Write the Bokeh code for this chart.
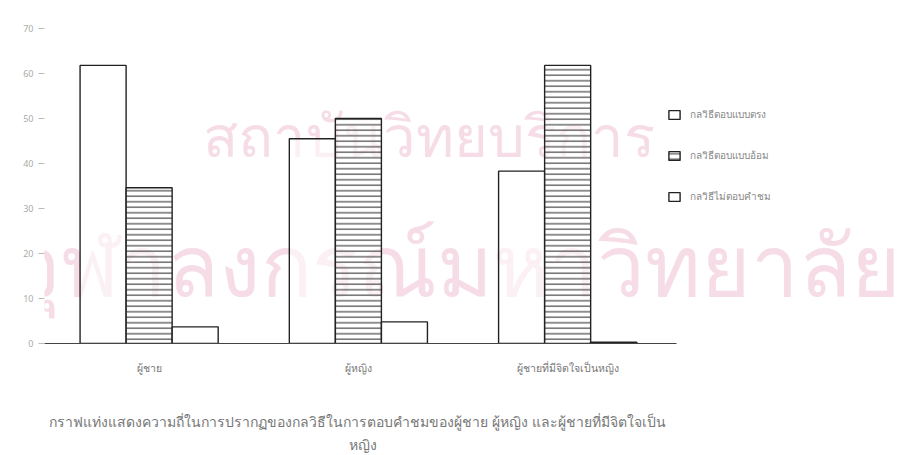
from bokeh.plotting import figure
from bokeh.layouts import column
from bokeh.models import Range1d, Legend, LegendItem, Label
from bokeh.transform import dodge
from bokeh.embed import file_html
from bokeh.resources import INLINE

categories = ["ผู้ชาย", "ผู้หญิง", "ผู้ชายที่มีจิตใจเป็นหญิง"]
series_names = ["กลวิธีตอบแบบตรง", "กลวิธีตอบแบบอ้อม", "กลวิธีไม่ตอบคำชม"]
direct = [61.8, 45.5, 38.3]
indirect = [34.6, 50.0, 61.8]
no_reply = [3.7, 4.8, 0.3]
y_ticks = [0, 10, 20, 30, 40, 50, 60, 70]
caption_1 = "กราฟแท่งแสดงความถี่ในการปรากฏของกลวิธีในการตอบคำชมของผู้ชาย ผู้หญิง และผู้ชายที่มีจิตใจเป็น"
caption_2 = "หญิง"
watermark_1 = "สถาบันวิทยบริการ"
watermark_2 = "จุฬาลงกรณ์มหาวิทยาลัย"

FONT = "Noto Sans"
positions = list(range(1, len(categories) + 1))

p = figure(width=910, height=388, x_range=Range1d(0.5, 4.562), y_range=Range1d(0, 70),
           output_backend="svg", toolbar_location=None,
           min_border_left=44, min_border_right=16, min_border_top=28, min_border_bottom=45)
p.outline_line_color = None
p.grid.grid_line_color = None
p.background_fill_color = "white"

wm_color = "#e7a3bd"
p.add_layout(Label(x=384, y=209, x_units="screen", y_units="screen", text=watermark_1,
                   text_align="center", text_baseline="middle", text_font=FONT,
                   text_font_size="58px", text_color=wm_color, text_alpha=0.38, level="underlay"))
p.add_layout(Label(x=411, y=81, x_units="screen", y_units="screen", text=watermark_2,
                   text_align="center", text_baseline="middle", text_font=FONT,
                   text_font_size="85px", text_color=wm_color, text_alpha=0.38, level="underlay"))

src = dict(x=positions, direct=direct, indirect=indirect, no_reply=no_reply)
r1 = p.vbar(x=dodge("x", -0.22), top="direct", width=0.22, source=src,
            fill_color="white", fill_alpha=0.6, line_color="#222222", line_width=1.4)
r2 = p.vbar(x=dodge("x", 0.0), top="indirect", width=0.22, source=src,
            fill_color="white", fill_alpha=0.6, line_color="#222222", line_width=1.4,
            hatch_pattern="horizontal_line", hatch_color="#555555", hatch_weight=1.3, hatch_scale=5.5)
r3 = p.vbar(x=dodge("x", 0.22), top="no_reply", width=0.22, source=src,
            fill_color="white", fill_alpha=0.6, line_color="#222222", line_width=1.4)

p.yaxis.ticker = y_ticks
p.yaxis.axis_line_color = None
p.yaxis.major_tick_line_color = "#bbbbbb"
p.yaxis.major_tick_out = 6
p.yaxis.major_tick_in = 0
p.yaxis.minor_tick_line_color = None
p.yaxis.major_label_text_color = "#aaaaaa"
p.yaxis.major_label_text_font = FONT
p.yaxis.major_label_text_font_size = "9px"
p.yaxis.major_label_standoff = 5

p.xaxis.ticker = positions
p.xaxis.major_label_overrides = {pos: cat for pos, cat in zip(positions, categories)}
p.xaxis.bounds = (0.5, 3.52)
p.xaxis.axis_line_color = "#444444"
p.xaxis.axis_line_width = 1.2
p.xaxis.major_tick_line_color = None
p.xaxis.minor_tick_line_color = None
p.xaxis.major_label_text_color = "#777777"
p.xaxis.major_label_text_font = FONT
p.xaxis.major_label_text_font_size = "10.5px"
p.xaxis.major_label_standoff = 11

legend = Legend(items=[LegendItem(label=series_names[0], renderers=[r1]),
                       LegendItem(label=series_names[1], renderers=[r2]),
                       LegendItem(label=series_names[2], renderers=[r3])],
                location=(623, 139), orientation="vertical",
                border_line_color=None, background_fill_alpha=0,
                glyph_width=14, glyph_height=11, label_height=14, spacing=26,
                padding=0, margin=0, label_standoff=9,
                label_text_font=FONT, label_text_font_size="10px", label_text_color="#888888")
p.add_layout(legend, "center")

cap = figure(width=910, height=67, x_range=Range1d(0, 1), y_range=Range1d(0, 1),
             output_backend="svg", toolbar_location=None,
             min_border_left=44, min_border_right=16, min_border_top=0, min_border_bottom=0)
cap.axis.visible = False
cap.grid.grid_line_color = None
cap.outline_line_color = None
cap.add_layout(Label(x=313, y=34, x_units="screen", y_units="screen", text=caption_1,
                     text_align="center", text_baseline="middle", text_font=FONT,
                     text_font_size="14px", text_color="#777777"))
cap.add_layout(Label(x=318, y=11, x_units="screen", y_units="screen", text=caption_2,
                     text_align="center", text_baseline="middle", text_font=FONT,
                     text_font_size="14px", text_color="#777777"))

layout = column(p, cap, spacing=0)
open("out.html", "w").write(file_html(layout, INLINE))
